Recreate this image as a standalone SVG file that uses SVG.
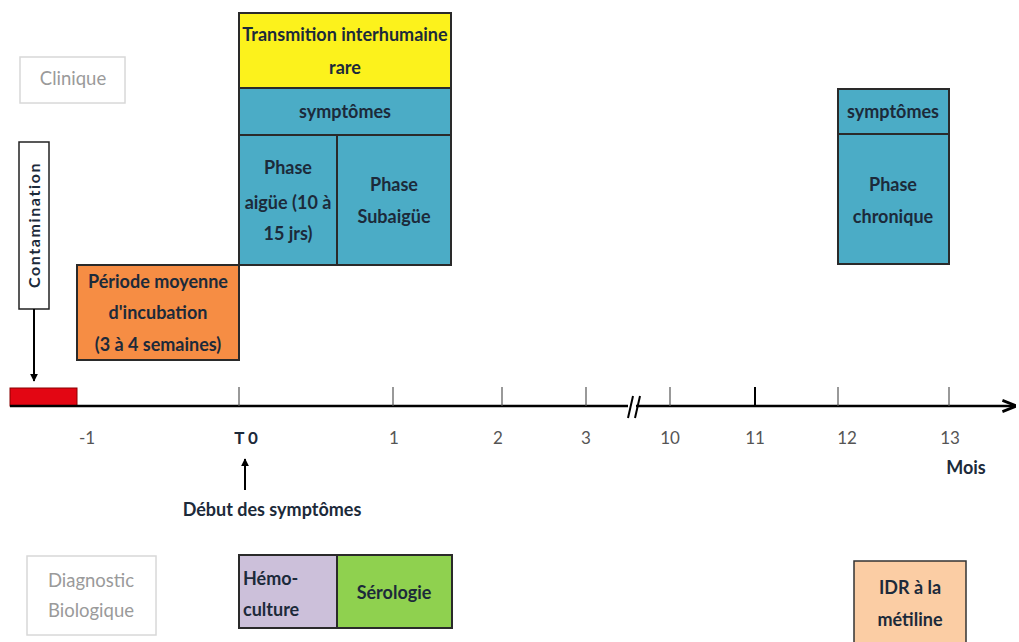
<svg xmlns="http://www.w3.org/2000/svg" width="1019" height="642" viewBox="0 0 1019 642">
<style>
.t{font-family:Lato,"Open Sans","Liberation Sans",sans-serif;font-weight:bold;fill:#1c2a3a;text-anchor:middle;font-size:18px}
.g{font-family:Lato,"Open Sans","Liberation Sans",sans-serif;fill:#9a9a9a;text-anchor:middle;font-size:18.5px}
.n{font-family:Lato,"Open Sans","Liberation Sans",sans-serif;fill:#555;text-anchor:middle;font-size:17px}
.box{stroke:#2a2a2a;stroke-width:2}
.blue{fill:#4bacc6}
.tick{stroke:#555;stroke-width:1.2}
</style>
<defs>
<marker id="ah" viewBox="0 0 10 10" refX="9" refY="5" markerWidth="8" markerHeight="8" orient="auto" markerUnits="userSpaceOnUse">
<path d="M0,0 L10,5 L0,10 Z" fill="#000"/>
</marker>
<marker id="ah2" viewBox="0 0 10 10" refX="9" refY="5" markerWidth="14" markerHeight="14" orient="auto" markerUnits="userSpaceOnUse">
<path d="M0,1 L10,5 L0,9" fill="none" stroke="#000" stroke-width="2"/>
</marker>
</defs>
<rect width="1019" height="642" fill="#fff"/>

<g id="clinique">
<rect x="20" y="57" width="105" height="46" fill="#fff" stroke="#d8d8d8" stroke-width="1.5"/>
<text class="g" x="73" y="85">Clinique</text>
</g>

<g id="contamination">
<rect x="19" y="142" width="30" height="167" fill="#fff" stroke="#222" stroke-width="1.5"/>
<text class="t" transform="translate(40,225) rotate(-90)" style="font-size:16px;letter-spacing:1.6px">Contamination</text>
</g>

<g id="transmission">
<rect class="box" x="239" y="13" width="212" height="75" fill="#fcf21c"/>
<text class="t" x="345" y="41">Transmition interhumaine</text>
<text class="t" x="345" y="74">rare</text>
</g>

<g id="symptomes1">
<rect class="box blue" x="239" y="88" width="212" height="47"/>
<text class="t" x="345" y="118">symptômes</text>
</g>

<g id="phase-aigue">
<rect class="box blue" x="239" y="135" width="98" height="130"/>
<text class="t" x="288" y="174">Phase</text>
<text class="t" x="288" y="209">aigüe (10 à</text>
<text class="t" x="288" y="240">15 jrs)</text>
</g>

<g id="phase-subaigue">
<rect class="box blue" x="337" y="135" width="114" height="130"/>
<text class="t" x="394" y="191">Phase</text>
<text class="t" x="394" y="223">Subaigüe</text>
</g>

<g id="incubation">
<rect class="box" x="77" y="265" width="162" height="95" fill="#f68d44"/>
<text class="t" x="158" y="288">Période moyenne</text>
<text class="t" x="158" y="319">d'incubation</text>
<text class="t" x="158" y="351">(3 à 4 semaines)</text>
</g>

<g id="symptomes2">
<rect class="box blue" x="838" y="89" width="111" height="45"/>
<text class="t" x="893" y="118">symptômes</text>
</g>

<g id="phase-chronique">
<rect class="box blue" x="838" y="134" width="111" height="130"/>
<text class="t" x="893" y="191">Phase</text>
<text class="t" x="893" y="223">chronique</text>
</g>

<g id="periode-rouge">
<rect x="10" y="388" width="67" height="18" fill="#e30613" stroke="#8a0000" stroke-width="1"/>
</g>

<g id="axe">
<line x1="10" y1="406" x2="628" y2="406" stroke="#000" stroke-width="2.5"/>
<line x1="636" y1="406" x2="1015" y2="406" stroke="#000" stroke-width="2.5" marker-end="url(#ah2)"/>
<line x1="628" y1="418" x2="633" y2="396" stroke="#000" stroke-width="2"/>
<line x1="635" y1="418" x2="640" y2="396" stroke="#000" stroke-width="2"/>
<line class="tick" x1="239" y1="387" x2="239" y2="406"/>
<line class="tick" x1="393" y1="387" x2="393" y2="406"/>
<line class="tick" x1="502" y1="387" x2="502" y2="406"/>
<line class="tick" x1="586" y1="387" x2="586" y2="406"/>
<line class="tick" x1="670" y1="387" x2="670" y2="406"/>
<line x1="755" y1="387" x2="755" y2="406" stroke="#000" stroke-width="2"/>
<line class="tick" x1="838" y1="387" x2="838" y2="406"/>
<line class="tick" x1="949" y1="387" x2="949" y2="406"/>
<text class="n" x="87" y="444">-1</text>
<text class="t" x="246" y="444" style="font-size:17px">T 0</text>
<text class="n" x="394" y="444">1</text>
<text class="n" x="498" y="444">2</text>
<text class="n" x="586" y="444">3</text>
<text class="n" x="670" y="444">10</text>
<text class="n" x="755" y="444">11</text>
<text class="n" x="847" y="444">12</text>
<text class="n" x="950" y="444">13</text>
<text class="t" x="966" y="474">Mois</text>
</g>

<g id="connecteurs">
<line x1="34" y1="309" x2="34" y2="381" stroke="#000" stroke-width="2" marker-end="url(#ah)"/>
<line x1="245" y1="490" x2="245" y2="459" stroke="#000" stroke-width="2" marker-end="url(#ah)"/>
</g>

<g id="debut">
<text class="t" x="272" y="516">Début des symptômes</text>
</g>

<g id="diagnostic">
<rect x="27" y="556" width="129" height="79" fill="#fff" stroke="#d8d8d8" stroke-width="1.5"/>
<text class="g" x="91" y="587">Diagnostic</text>
<text class="g" x="91" y="617">Biologique</text>
</g>

<g id="hemoculture">
<rect class="box" x="239" y="555" width="98" height="73" fill="#ccc0da"/>
<text class="t" x="243" y="585" style="text-anchor:start">Hémo-</text>
<text class="t" x="243" y="616" style="text-anchor:start">culture</text>
</g>

<g id="serologie">
<rect class="box" x="337" y="555" width="115" height="73" fill="#8fd14f"/>
<text class="t" x="394" y="599">Sérologie</text>
</g>

<g id="idr">
<rect x="854" y="561" width="112" height="90" fill="#fbcda4" stroke="#333" stroke-width="1.5"/>
<text class="t" x="910" y="594">IDR à la</text>
<text class="t" x="910" y="626">métiline</text>
</g>
</svg>
